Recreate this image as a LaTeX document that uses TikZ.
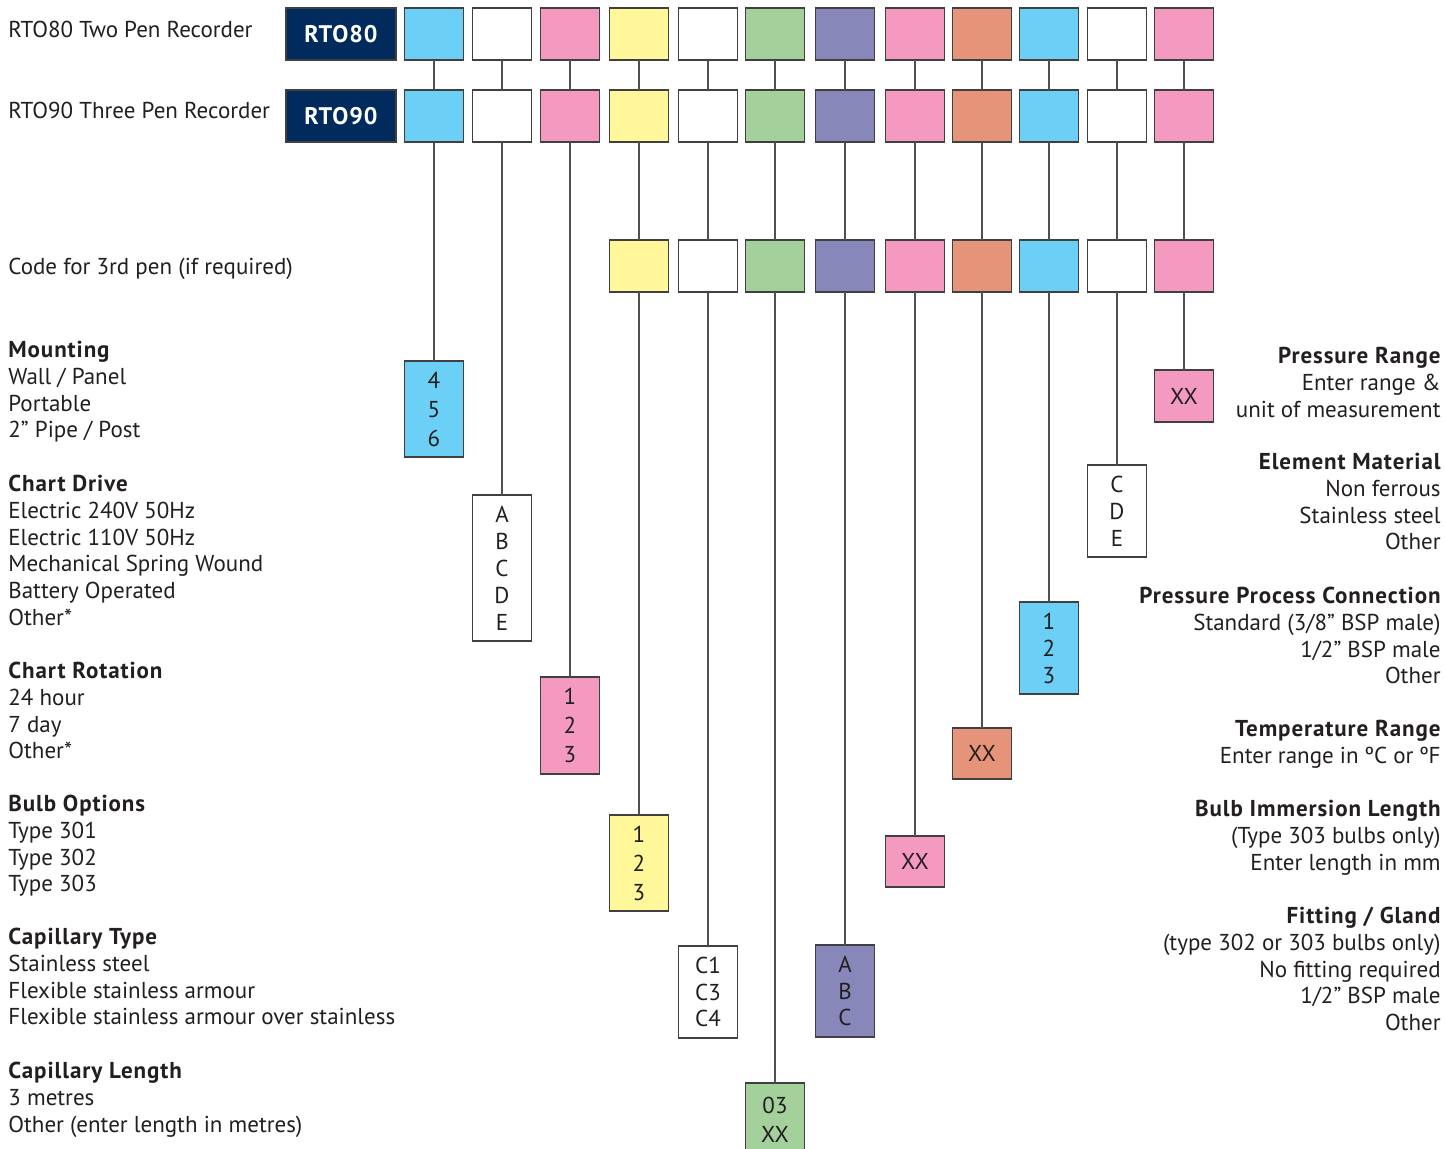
\documentclass[tikz,border=0pt]{standalone}
\usepackage{fontspec}
\setmainfont{PT Sans}[BoldFeatures={LetterSpace=4}]
\definecolor{cblue}{HTML}{6BCFF6}
\definecolor{cpink}{HTML}{F49AC1}
\definecolor{cyellow}{HTML}{FFF799}
\definecolor{cgreen}{HTML}{A3D09B}
\definecolor{cpurple}{HTML}{8787BA}
\definecolor{corange}{HTML}{E69479}
\definecolor{cnavy}{HTML}{002B5C}
\definecolor{boxgray}{HTML}{404040}
\definecolor{linegray}{HTML}{505050}
\definecolor{txt}{HTML}{231F20}
\tikzset{
  box/.style={draw=boxgray, line width=0.75pt, minimum width=29.5pt, minimum height=26pt,
    inner sep=0pt, outer sep=0pt, align=center, text=txt},
  link/.style={draw=linegray, line width=0.75pt},
  lbl/.style={inner sep=0pt, text=txt},
  navybox/.style={fill=cnavy, draw=boxgray, line width=0.75pt, minimum width=55pt,
    minimum height=26pt, inner sep=0pt, outer sep=0pt, text=white, font=\fontsize{12}{13}\selectfont\bfseries},
  bf/.style={font=\fontsize{11.5}{13.35}\selectfont}
}
\newcommand{\hd}[1]{{\bfseries #1}}
\begin{document}
\begin{tikzpicture}[x=0.5pt,y=-0.5pt]
\clip (0,0) rectangle (1445,1148);
\fill[white] (0,0) rectangle (1445,1148);

% navy model boxes
\node[navybox] (rto80) at (341,34) {RTO80};
\node[navybox] (rto90) at (341,116) {RTO90};

% top labels
\node[lbl, bf, anchor=west] (l80) at (8,29) {RTO80 Two Pen Recorder};
\node[lbl, bf, anchor=west] (l90) at (8,110) {RTO90 Three Pen Recorder};
\node[lbl, bf, anchor=west] (l3rd) at (8,269) {Code for 3rd pen (if required)};

% columns rows 1 & 2
\foreach \i/\cx/\col in {1/434/cblue, 2/502/white, 3/570/cpink, 4/639/cyellow, 5/708/white,
  6/775/cgreen, 7/845/cpurple, 8/915/cpink, 9/982/corange, 10/1049/cblue, 11/1117/white, 12/1184/cpink} {
  \node[box, fill=\col] (a\i) at (\cx,34) {};
  \node[box, fill=\col] (b\i) at (\cx,116) {};
  \draw[link] (a\i) -- (b\i);
}
% row 3
\foreach \i/\cx/\col in {4/639/cyellow, 5/708/white,
  6/775/cgreen, 7/845/cpurple, 8/915/cpink, 9/982/corange, 10/1049/cblue, 11/1117/white, 12/1184/cpink} {
  \node[box, fill=\col] (c\i) at (\cx,266) {};
  \draw[link] (b\i) -- (c\i);
}

% option boxes
\node[box, fill=cblue, minimum height=48pt, font=\fontsize{11.5}{14.5}\selectfont] (d1) at (434,409) {4\\5\\6};
\node[box, fill=white, minimum height=73pt, font=\fontsize{11.5}{13.5}\selectfont] (d2) at (502,568) {A\\B\\C\\D\\E};
\node[box, fill=cpink, minimum height=48.5pt, font=\fontsize{11.5}{14.5}\selectfont] (d3) at (570,725.5) {1\\2\\3};
\node[box, fill=cyellow, minimum height=48pt, font=\fontsize{11.5}{14.5}\selectfont] (d4) at (639,863) {1\\2\\3};
\node[box, fill=white, minimum height=46pt, font=\fontsize{11.5}{13.25}\selectfont] (d5) at (708,992) {C1\\C3\\C4};
\node[box, fill=cgreen, minimum height=37pt, font=\fontsize{11.5}{14.5}\selectfont] (d6) at (775,1120) {03\\XX};
\node[box, fill=cpurple, minimum height=46pt, font=\fontsize{11.5}{13.25}\selectfont] (d7) at (845,991) {A\\B\\C};
\node[box, fill=cpink, minimum height=25.5pt, font=\fontsize{11.5}{13}\selectfont] (d8) at (915,861.5) {XX};
\node[box, fill=corange, minimum height=25.5pt, font=\fontsize{11.5}{13}\selectfont] (d9) at (982,753.5) {XX};
\node[box, fill=cblue, minimum height=46pt, font=\fontsize{11.5}{13.5}\selectfont] (d10) at (1049,648) {1\\2\\3};
\node[box, fill=white, minimum height=46pt, font=\fontsize{11.5}{13.5}\selectfont] (d11) at (1117,511) {C\\D\\E};
\node[box, fill=cpink, minimum height=26pt, font=\fontsize{11.5}{13}\selectfont] (d12) at (1184,396) {XX};

\foreach \i in {1,2,3} { \draw[link] (b\i) -- (d\i); }
\foreach \i in {4,...,12} { \draw[link] (c\i) -- (d\i); }

% left descriptions
\node[lbl, bf, align=left, anchor=north west] (tmount) at (8,341)
  {\hd{Mounting}\\Wall / Panel\\Portable\\2” Pipe / Post};
\node[lbl, bf, align=left, anchor=north west] (tdrive) at (8,475)
  {\hd{Chart Drive}\\Electric 240V 50Hz\\Electric 110V 50Hz\\Mechanical Spring Wound\\Battery Operated\\Other*};
\node[lbl, bf, align=left, anchor=north west] (trot) at (8,662)
  {\hd{Chart Rotation}\\24 hour\\7 day\\Other*};
\node[lbl, bf, align=left, anchor=north west] (tbulb) at (8,795)
  {\hd{Bulb Options}\\Type 301\\Type 302\\Type 303};
\node[lbl, bf, align=left, anchor=north west] (tcapt) at (8,928)
  {\hd{Capillary Type}\\Stainless steel\\Flexible stainless armour\\Flexible stainless armour over stainless};
\node[lbl, bf, align=left, anchor=north west] (tcapl) at (8,1062)
  {\hd{Capillary Length}\\3 metres\\Other (enter length in metres)};

% right descriptions
\node[lbl, bf, align=right, anchor=north east] (tpress) at (1441,347)
  {\hd{Pressure Range}\\Enter range \&\\unit of measurement};
\node[lbl, bf, align=right, anchor=north east] (telem) at (1441,453)
  {\hd{Element Material}\\Non ferrous\\Stainless steel\\Other};
\node[lbl, bf, align=right, anchor=north east] (tproc) at (1441,587)
  {\hd{Pressure Process Connection}\\Standard (3/8” BSP male)\\1/2” BSP male\\Other};
\node[lbl, bf, align=right, anchor=north east] (ttemp) at (1441,720)
  {\hd{Temperature Range}\\Enter range in ºC or ºF};
\node[lbl, bf, align=right, anchor=north east] (timm) at (1441,800)
  {\hd{Bulb Immersion Length}\\(Type 303 bulbs only)\\Enter length in mm};
\node[lbl, bf, align=right, anchor=north east] (tfit) at (1441,907)
  {\hd{Fitting / Gland}\\(type 302 or 303 bulbs only)\\No fitting required\\1/2” BSP male\\Other};
\end{tikzpicture}
\end{document}
